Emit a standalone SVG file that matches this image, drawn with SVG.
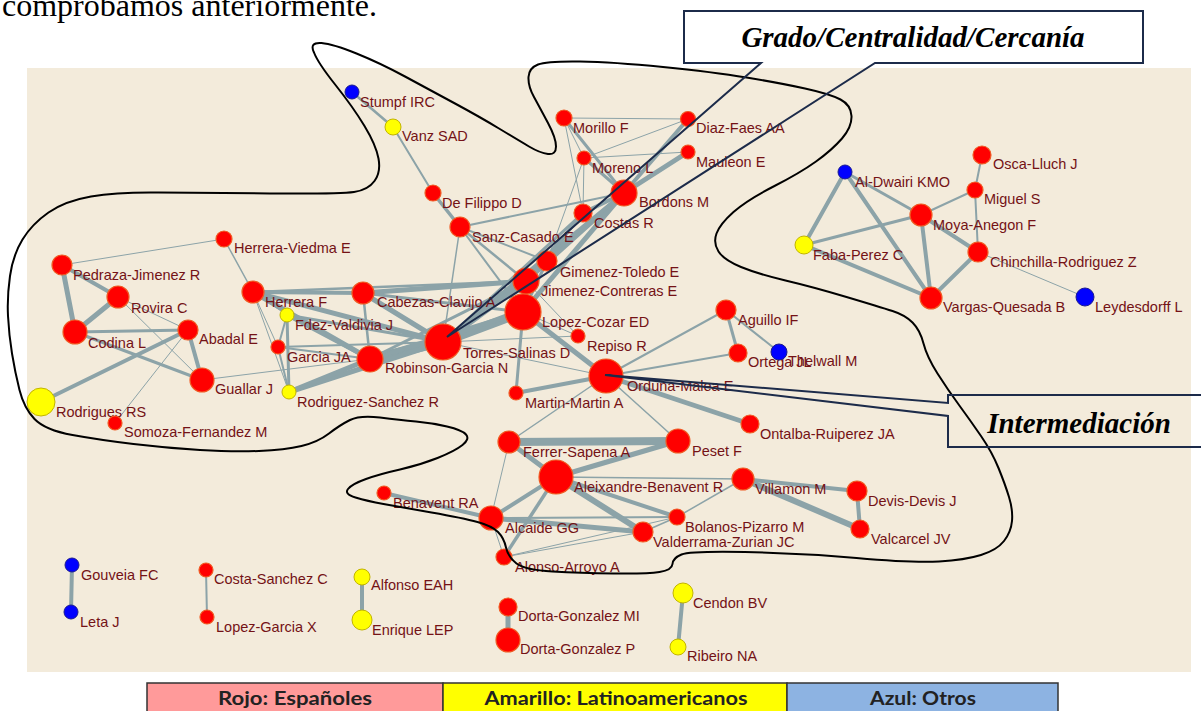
<svg xmlns="http://www.w3.org/2000/svg" width="1201" height="711" viewBox="0 0 1201 711">
<style>
.e line{stroke:#8CA3A8;stroke-linecap:round}
.r{fill:#FF0000;stroke:#F05A22;stroke-width:1.2}
.y{fill:#FFFF00;stroke:#C2B400;stroke-width:1}
.b{fill:#0000FF;stroke:#1A1A90;stroke-width:1}
.l{font-family:"Liberation Sans",Arial,sans-serif;font-size:14.5px;fill:#741216}
.co{fill:none;stroke:#1C2B4A;stroke-width:2}
.ct{font-family:"Liberation Serif","Times New Roman",serif;font-size:29px;font-weight:bold;font-style:italic;fill:#000;text-anchor:middle}
.lg{font-family:Lato,"Open Sans",sans-serif;font-size:19px;font-weight:bold;fill:#222;text-anchor:middle}
</style>
<rect width="1201" height="711" fill="#fff"/>
<text x="2" y="16" font-family="Liberation Serif,'Times New Roman',serif" font-size="32" fill="#000">comprobamos anteriormente.</text>
<rect x="27" y="68" width="1164" height="604" fill="#F3EBDB"/>

<g id="edges" class="e">
<line x1="352" y1="92" x2="393" y2="127" stroke-width="2.5"/>
<line x1="393" y1="127" x2="433" y2="193" stroke-width="2"/>
<line x1="433" y1="193" x2="460" y2="227" stroke-width="3.5"/>
<line x1="564" y1="118" x2="688" y2="119" stroke-width="1"/>
<line x1="564" y1="118" x2="624" y2="193" stroke-width="3"/>
<line x1="564" y1="118" x2="584" y2="158" stroke-width="1"/>
<line x1="564" y1="118" x2="583" y2="213" stroke-width="1"/>
<line x1="688" y1="119" x2="584" y2="158" stroke-width="1"/>
<line x1="688" y1="119" x2="624" y2="193" stroke-width="4"/>
<line x1="688" y1="152" x2="584" y2="158" stroke-width="1"/>
<line x1="688" y1="152" x2="624" y2="193" stroke-width="5"/>
<line x1="584" y1="158" x2="624" y2="193" stroke-width="3"/>
<line x1="584" y1="158" x2="583" y2="213" stroke-width="1"/>
<line x1="624" y1="193" x2="583" y2="213" stroke-width="4"/>
<line x1="460" y1="227" x2="624" y2="193" stroke-width="2"/>
<line x1="460" y1="227" x2="443" y2="342" stroke-width="1.5"/>
<line x1="460" y1="227" x2="526" y2="281" stroke-width="2.5"/>
<line x1="460" y1="227" x2="547" y2="261" stroke-width="2"/>
<line x1="460" y1="227" x2="523" y2="312" stroke-width="2"/>
<line x1="624" y1="193" x2="547" y2="261" stroke-width="4"/>
<line x1="624" y1="193" x2="526" y2="281" stroke-width="5"/>
<line x1="624" y1="193" x2="523" y2="312" stroke-width="5"/>
<line x1="624" y1="193" x2="443" y2="342" stroke-width="4"/>
<line x1="583" y1="213" x2="526" y2="281" stroke-width="3"/>
<line x1="583" y1="213" x2="443" y2="342" stroke-width="3"/>
<line x1="583" y1="213" x2="547" y2="261" stroke-width="2"/>
<line x1="584" y1="158" x2="547" y2="261" stroke-width="1"/>
<line x1="547" y1="261" x2="526" y2="281" stroke-width="3"/>
<line x1="547" y1="261" x2="443" y2="342" stroke-width="4"/>
<line x1="547" y1="261" x2="523" y2="312" stroke-width="3"/>
<line x1="526" y1="281" x2="523" y2="312" stroke-width="6"/>
<line x1="526" y1="281" x2="443" y2="342" stroke-width="6"/>
<line x1="523" y1="312" x2="443" y2="342" stroke-width="9"/>
<line x1="443" y1="342" x2="370" y2="359" stroke-width="9"/>
<line x1="443" y1="342" x2="363" y2="293" stroke-width="5"/>
<line x1="443" y1="342" x2="253" y2="292" stroke-width="5"/>
<line x1="443" y1="342" x2="287" y2="315" stroke-width="3"/>
<line x1="443" y1="342" x2="278" y2="347" stroke-width="2"/>
<line x1="443" y1="342" x2="289" y2="392" stroke-width="5"/>
<line x1="443" y1="342" x2="578" y2="336" stroke-width="1"/>
<line x1="443" y1="342" x2="606" y2="376" stroke-width="1"/>
<line x1="526" y1="281" x2="363" y2="293" stroke-width="5"/>
<line x1="523" y1="312" x2="363" y2="293" stroke-width="3"/>
<line x1="526" y1="281" x2="253" y2="292" stroke-width="2.5"/>
<line x1="523" y1="312" x2="370" y2="359" stroke-width="5"/>
<line x1="526" y1="281" x2="370" y2="359" stroke-width="3"/>
<line x1="363" y1="293" x2="370" y2="359" stroke-width="2.5"/>
<line x1="253" y1="292" x2="363" y2="293" stroke-width="4"/>
<line x1="253" y1="292" x2="370" y2="359" stroke-width="5"/>
<line x1="253" y1="292" x2="287" y2="315" stroke-width="1"/>
<line x1="253" y1="292" x2="278" y2="347" stroke-width="1"/>
<line x1="253" y1="292" x2="289" y2="392" stroke-width="1"/>
<line x1="224" y1="239" x2="253" y2="292" stroke-width="1.5"/>
<line x1="224" y1="239" x2="62" y2="265" stroke-width="1"/>
<line x1="287" y1="315" x2="278" y2="347" stroke-width="2"/>
<line x1="287" y1="315" x2="289" y2="392" stroke-width="3"/>
<line x1="287" y1="315" x2="370" y2="359" stroke-width="4"/>
<line x1="278" y1="347" x2="370" y2="359" stroke-width="2"/>
<line x1="278" y1="347" x2="289" y2="392" stroke-width="2"/>
<line x1="289" y1="392" x2="370" y2="359" stroke-width="5"/>
<line x1="202" y1="380" x2="370" y2="359" stroke-width="1"/>
<line x1="523" y1="312" x2="578" y2="336" stroke-width="1"/>
<line x1="526" y1="281" x2="578" y2="336" stroke-width="1"/>
<line x1="523" y1="312" x2="606" y2="376" stroke-width="5"/>
<line x1="523" y1="312" x2="516" y2="393" stroke-width="3"/>
<line x1="516" y1="393" x2="606" y2="376" stroke-width="4"/>
<line x1="606" y1="376" x2="726" y2="310" stroke-width="2"/>
<line x1="606" y1="376" x2="738" y2="353" stroke-width="2"/>
<line x1="606" y1="376" x2="750" y2="424" stroke-width="5"/>
<line x1="606" y1="376" x2="678" y2="441" stroke-width="1.5"/>
<line x1="606" y1="376" x2="509" y2="442" stroke-width="1.5"/>
<line x1="726" y1="310" x2="738" y2="353" stroke-width="3"/>
<line x1="726" y1="310" x2="779" y2="352" stroke-width="2"/>
<line x1="509" y1="442" x2="678" y2="441" stroke-width="8"/>
<line x1="509" y1="442" x2="556" y2="477" stroke-width="5"/>
<line x1="678" y1="441" x2="556" y2="477" stroke-width="5"/>
<line x1="509" y1="442" x2="491" y2="518" stroke-width="1"/>
<line x1="556" y1="477" x2="743" y2="479" stroke-width="1.5"/>
<line x1="556" y1="477" x2="491" y2="518" stroke-width="4"/>
<line x1="556" y1="477" x2="504" y2="557" stroke-width="3.5"/>
<line x1="556" y1="477" x2="643" y2="532" stroke-width="6"/>
<line x1="556" y1="477" x2="677" y2="517" stroke-width="4"/>
<line x1="491" y1="518" x2="643" y2="532" stroke-width="5"/>
<line x1="491" y1="518" x2="677" y2="517" stroke-width="2"/>
<line x1="491" y1="518" x2="384" y2="493" stroke-width="4"/>
<line x1="491" y1="518" x2="504" y2="557" stroke-width="1"/>
<line x1="504" y1="557" x2="643" y2="532" stroke-width="1"/>
<line x1="504" y1="557" x2="677" y2="517" stroke-width="1"/>
<line x1="643" y1="532" x2="677" y2="517" stroke-width="1.5"/>
<line x1="677" y1="517" x2="743" y2="479" stroke-width="1.5"/>
<line x1="743" y1="479" x2="857" y2="491" stroke-width="4"/>
<line x1="743" y1="479" x2="860" y2="529" stroke-width="6"/>
<line x1="857" y1="491" x2="860" y2="529" stroke-width="4"/>
<line x1="62" y1="265" x2="75" y2="332" stroke-width="5"/>
<line x1="62" y1="265" x2="118" y2="297" stroke-width="4"/>
<line x1="118" y1="297" x2="75" y2="332" stroke-width="5"/>
<line x1="75" y1="332" x2="188" y2="330" stroke-width="3"/>
<line x1="75" y1="332" x2="202" y2="380" stroke-width="3"/>
<line x1="118" y1="297" x2="202" y2="380" stroke-width="1"/>
<line x1="118" y1="297" x2="188" y2="330" stroke-width="1"/>
<line x1="188" y1="330" x2="202" y2="380" stroke-width="4"/>
<line x1="188" y1="330" x2="41" y2="402" stroke-width="4"/>
<line x1="188" y1="330" x2="115" y2="423" stroke-width="1"/>
<line x1="845" y1="172" x2="804" y2="245" stroke-width="4"/>
<line x1="845" y1="172" x2="921" y2="215" stroke-width="3"/>
<line x1="845" y1="172" x2="931" y2="298" stroke-width="4"/>
<line x1="921" y1="215" x2="975" y2="190" stroke-width="2"/>
<line x1="975" y1="190" x2="982" y2="155" stroke-width="2"/>
<line x1="975" y1="190" x2="978" y2="252" stroke-width="2"/>
<line x1="921" y1="215" x2="804" y2="245" stroke-width="3"/>
<line x1="921" y1="215" x2="931" y2="298" stroke-width="4"/>
<line x1="921" y1="215" x2="978" y2="252" stroke-width="4"/>
<line x1="804" y1="245" x2="931" y2="298" stroke-width="4"/>
<line x1="978" y1="252" x2="931" y2="298" stroke-width="4"/>
<line x1="978" y1="252" x2="1085" y2="297" stroke-width="1"/>
<line x1="72" y1="565" x2="71" y2="612" stroke-width="4"/>
<line x1="206" y1="570" x2="207" y2="617" stroke-width="2"/>
<line x1="362" y1="577" x2="362" y2="620" stroke-width="4"/>
<line x1="508" y1="607" x2="508" y2="640" stroke-width="5"/>
<line x1="683" y1="593" x2="678" y2="647" stroke-width="4"/>
</g>

<g id="n-stumpf"><circle class="b" cx="352" cy="92" r="7"/><text class="l" x="360" y="107">Stumpf IRC</text></g>
<g id="n-vanz"><circle class="y" cx="393" cy="127" r="8"/><text class="l" x="402" y="141">Vanz SAD</text></g>
<g id="n-morillo"><circle class="r" cx="564" cy="118" r="8"/><text class="l" x="573" y="133">Morillo F</text></g>
<g id="n-diazfaes"><circle class="r" cx="688" cy="119" r="7.5"/><text class="l" x="696" y="133">Diaz-Faes AA</text></g>
<g id="n-moreno"><circle class="r" cx="584" cy="158" r="7"/><text class="l" x="592" y="173">Moreno L</text></g>
<g id="n-mauleon"><circle class="r" cx="688" cy="152" r="7"/><text class="l" x="696" y="167">Mauleon E</text></g>
<g id="n-bordons"><circle class="r" cx="624" cy="193" r="13"/><text class="l" x="639" y="207">Bordons M</text></g>
<g id="n-defilippo"><circle class="r" cx="433" cy="193" r="8"/><text class="l" x="442" y="208">De Filippo D</text></g>
<g id="n-costas"><circle class="r" cx="583" cy="213" r="9"/><text class="l" x="594" y="228">Costas R</text></g>
<g id="n-sanzcasado"><circle class="r" cx="460" cy="227" r="10"/><text class="l" x="472" y="242">Sanz-Casado E</text></g>
<g id="n-herreraviedma"><circle class="r" cx="224" cy="239" r="8"/><text class="l" x="234" y="253">Herrera-Viedma E</text></g>
<g id="n-gimenez"><circle class="r" cx="547" cy="261" r="10"/><text class="l" x="560" y="277">Gimenez-Toledo E</text></g>
<g id="n-jimenez"><circle class="r" cx="526" cy="281" r="13"/><text class="l" x="541" y="296">Jimenez-Contreras E</text></g>
<g id="n-lopezcozar"><circle class="r" cx="523" cy="312" r="18"/><text class="l" x="542" y="327">Lopez-Cozar ED</text></g>
<g id="n-repiso"><circle class="r" cx="578" cy="336" r="7"/><text class="l" x="587" y="351">Repiso R</text></g>
<g id="n-torres"><circle class="r" cx="443" cy="342" r="18"/><text class="l" x="463" y="358">Torres-Salinas D</text></g>
<g id="n-robinson"><circle class="r" cx="370" cy="359" r="13"/><text class="l" x="385" y="373">Robinson-Garcia N</text></g>
<g id="n-cabezas"><circle class="r" cx="363" cy="293" r="11"/><text class="l" x="377" y="307">Cabezas-Clavijo A</text></g>
<g id="n-herreraf"><circle class="r" cx="253" cy="292" r="11"/><text class="l" x="265" y="307">Herrera F</text></g>
<g id="n-fdez"><circle class="y" cx="287" cy="315" r="7"/><text class="l" x="295" y="330">Fdez-Valdivia J</text></g>
<g id="n-garciaja"><circle class="r" cx="278" cy="347" r="7"/><text class="l" x="287" y="362">Garcia JA</text></g>
<g id="n-rodriguezsanchez"><circle class="y" cx="289" cy="392" r="7"/><text class="l" x="297" y="407">Rodriguez-Sanchez R</text></g>
<g id="n-pedraza"><circle class="r" cx="62" cy="265" r="10"/><text class="l" x="73" y="280">Pedraza-Jimenez R</text></g>
<g id="n-rovira"><circle class="r" cx="118" cy="297" r="11"/><text class="l" x="131" y="313">Rovira C</text></g>
<g id="n-codina"><circle class="r" cx="75" cy="332" r="12"/><text class="l" x="88" y="348">Codina L</text></g>
<g id="n-abadal"><circle class="r" cx="188" cy="330" r="10"/><text class="l" x="199" y="344">Abadal E</text></g>
<g id="n-guallar"><circle class="r" cx="202" cy="380" r="12"/><text class="l" x="215" y="394">Guallar J</text></g>
<g id="n-rodrigues"><circle class="y" cx="41" cy="402" r="14"/><text class="l" x="56" y="417">Rodrigues RS</text></g>
<g id="n-somoza"><circle class="r" cx="115" cy="423" r="7"/><text class="l" x="124" y="437">Somoza-Fernandez M</text></g>
<g id="n-orduna"><circle class="r" cx="606" cy="376" r="17"/><text class="l" x="627" y="391">Orduna-Malea E</text></g>
<g id="n-martin"><circle class="r" cx="516" cy="393" r="7"/><text class="l" x="525" y="408">Martin-Martin A</text></g>
<g id="n-aguillo"><circle class="r" cx="726" cy="310" r="10"/><text class="l" x="738" y="325">Aguillo IF</text></g>
<g id="n-ortega"><circle class="r" cx="738" cy="353" r="9"/><text class="l" x="748" y="367">Ortega JL</text></g>
<g id="n-thelwall"><circle class="b" cx="779" cy="352" r="8"/><text class="l" x="788" y="366">Thelwall M</text></g>
<g id="n-ontalba"><circle class="r" cx="750" cy="424" r="9"/><text class="l" x="760" y="439">Ontalba-Ruiperez JA</text></g>
<g id="n-ferrer"><circle class="r" cx="509" cy="442" r="11"/><text class="l" x="523" y="457">Ferrer-Sapena A</text></g>
<g id="n-peset"><circle class="r" cx="678" cy="441" r="12"/><text class="l" x="692" y="456">Peset F</text></g>
<g id="n-aleixandre"><circle class="r" cx="556" cy="477" r="17"/><text class="l" x="574" y="492">Aleixandre-Benavent R</text></g>
<g id="n-villamon"><circle class="r" cx="743" cy="479" r="11"/><text class="l" x="755" y="494">Villamon M</text></g>
<g id="n-benavent"><circle class="r" cx="384" cy="493" r="7"/><text class="l" x="393" y="508">Benavent RA</text></g>
<g id="n-alcaide"><circle class="r" cx="491" cy="518" r="12"/><text class="l" x="505" y="533">Alcaide GG</text></g>
<g id="n-bolanos"><circle class="r" cx="677" cy="517" r="8"/><text class="l" x="685" y="532">Bolanos-Pizarro M</text></g>
<g id="n-valderrama"><circle class="r" cx="643" cy="532" r="10"/><text class="l" x="653" y="547">Valderrama-Zurian JC</text></g>
<g id="n-alonso"><circle class="r" cx="504" cy="557" r="8"/><text class="l" x="515" y="572">Alonso-Arroyo A</text></g>
<g id="n-devis"><circle class="r" cx="857" cy="491" r="10"/><text class="l" x="868" y="506">Devis-Devis J</text></g>
<g id="n-valcarcel"><circle class="r" cx="860" cy="529" r="9"/><text class="l" x="871" y="544">Valcarcel JV</text></g>
<g id="n-aldwairi"><circle class="b" cx="845" cy="172" r="7"/><text class="l" x="855" y="187">Al-Dwairi KMO</text></g>
<g id="n-osca"><circle class="r" cx="982" cy="155" r="9"/><text class="l" x="993" y="169">Osca-Lluch J</text></g>
<g id="n-miguel"><circle class="r" cx="975" cy="190" r="8"/><text class="l" x="984" y="204">Miguel S</text></g>
<g id="n-moya"><circle class="r" cx="921" cy="215" r="11"/><text class="l" x="933" y="230">Moya-Anegon F</text></g>
<g id="n-faba"><circle class="y" cx="804" cy="245" r="9"/><text class="l" x="813" y="260">Faba-Perez C</text></g>
<g id="n-chinchilla"><circle class="r" cx="978" cy="252" r="10"/><text class="l" x="990" y="267">Chinchilla-Rodriguez Z</text></g>
<g id="n-vargas"><circle class="r" cx="931" cy="298" r="11"/><text class="l" x="943" y="312">Vargas-Quesada B</text></g>
<g id="n-leydesdorff"><circle class="b" cx="1085" cy="297" r="9"/><text class="l" x="1095" y="312">Leydesdorff L</text></g>
<g id="n-gouveia"><circle class="b" cx="72" cy="565" r="7"/><text class="l" x="81" y="580">Gouveia FC</text></g>
<g id="n-leta"><circle class="b" cx="71" cy="612" r="7"/><text class="l" x="80" y="627">Leta J</text></g>
<g id="n-costasanchez"><circle class="r" cx="206" cy="570" r="7"/><text class="l" x="214" y="584">Costa-Sanchez C</text></g>
<g id="n-lopezgarcia"><circle class="r" cx="207" cy="617" r="7"/><text class="l" x="216" y="632">Lopez-Garcia X</text></g>
<g id="n-alfonso"><circle class="y" cx="362" cy="577" r="8"/><text class="l" x="371" y="590">Alfonso EAH</text></g>
<g id="n-enrique"><circle class="y" cx="362" cy="620" r="10"/><text class="l" x="372" y="635">Enrique LEP</text></g>
<g id="n-dortami"><circle class="r" cx="508" cy="607" r="9"/><text class="l" x="518" y="621">Dorta-Gonzalez MI</text></g>
<g id="n-dortap"><circle class="r" cx="508" cy="640" r="12"/><text class="l" x="520" y="654">Dorta-Gonzalez P</text></g>
<g id="n-cendon"><circle class="y" cx="683" cy="593" r="10"/><text class="l" x="693" y="608">Cendon BV</text></g>
<g id="n-ribeiro"><circle class="y" cx="678" cy="647" r="8"/><text class="l" x="687" y="661">Ribeiro NA</text></g>

<!-- hand-drawn boundary around the main component -->
<path id="boundary" fill="none" stroke="#000" stroke-width="2" d="M 405,76.5 Q 380,63 356.5,53.5 Q 333,44 321.5,43 Q 309,42 314,52.5 Q 318,63 335.5,85 Q 353,107 364.5,126 Q 376,145 378.5,158.5 Q 381,172 374.5,181 Q 368,190 354,192 Q 340,194 270,193.5 Q 200,193 158.5,192.5 Q 117,192 91,196.5 Q 65,201 48.5,212.5 Q 32,224 22.5,239.5 Q 13,255 10,276 Q 7,297 8,316 Q 9,335 12,353.5 Q 15,372 19.5,390 Q 24,408 34.5,419 Q 45,430 72.5,435 Q 100,440 133.5,444 Q 167,448 200,450 Q 233,452 259,451 Q 285,450 301.5,446 Q 318,442 329,433.5 Q 340,425 350,420 Q 360,415 380,417.5 Q 400,420 416,421.5 Q 432,423 447,426.5 Q 462,430 466,434.5 Q 470,439 462.5,445 Q 455,451 437.5,458 Q 420,465 400,469.5 Q 380,474 366,479 Q 352,484 348,489 Q 344,494 355.5,497.5 Q 367,501 383.5,504 Q 400,507 431.5,512.5 Q 463,518 477.5,522 Q 492,526 498,532 Q 504,538 506,547.5 Q 508,557 516.5,563.5 Q 525,570 552.5,571.5 Q 580,573 613.5,573.5 Q 647,574 659.5,572 Q 672,570 672.5,564 Q 673,558 681.5,554.5 Q 690,551 745,552 Q 800,553 856.5,558 Q 913,563 939,561.5 Q 965,560 981,555 Q 997,550 1004,541 Q 1011,532 1012,521 Q 1013,510 1009,497 Q 1005,484 998.5,468 Q 992,452 981,436 Q 970,420 959,405 Q 948,390 937.5,373.5 Q 927,357 923.5,343.5 Q 920,330 912.5,322.5 Q 905,315 892.5,311 Q 880,307 846.5,297 Q 813,287 785.5,280.5 Q 758,274 741,267 Q 724,260 718.5,251.5 Q 713,243 716.5,233.5 Q 720,224 733.5,212 Q 747,200 773.5,186.5 Q 800,173 816,161.5 Q 832,150 842,138.5 Q 852,127 851.5,116 Q 851,105 840.5,99.5 Q 830,94 805,88.5 Q 780,83 746.5,77.5 Q 713,72 663,67 Q 613,62 580,61.5 Q 547,61 538,64.5 Q 529,68 528.5,77 Q 528,86 534,97 Q 540,108 548,123 Q 556,138 556,146.5 Q 556,155 548,154 Q 540,153 529,146.5 Q 518,140 499,128.5 Q 480,117 455,103.5 Q 430,90 405,76.5 Z"/>

<g id="callout-grado">
<rect x="684" y="11" width="459" height="52" fill="#fff"/>
<path class="co" d="M761,63 H684 V11 H1143 V63 H875 L447,337 Z"/>
<text class="ct" x="913" y="47">Grado/Centralidad/Cercanía</text>
</g>
<g id="callout-intermediacion">
<path class="co" d="M1201,395 H948 V403 L605,375 L948,416 V447 H1201"/>
<text class="ct" x="1079" y="433">Intermediación</text>
</g>

<g id="legend" stroke="#333" stroke-width="1.5">
<rect x="147" y="683" width="296" height="32" fill="#FF9A9A"/>
<rect x="443" y="683" width="344" height="32" fill="#FFFF00"/>
<rect x="787" y="683" width="271" height="32" fill="#8DB3E2"/>
</g>
<text class="lg" x="295" y="705" textLength="154" lengthAdjust="spacingAndGlyphs">Rojo: Españoles</text>
<text class="lg" x="616" y="705" textLength="263" lengthAdjust="spacingAndGlyphs">Amarillo: Latinoamericanos</text>
<text class="lg" x="923" y="705" textLength="106" lengthAdjust="spacingAndGlyphs">Azul: Otros</text>
</svg>
